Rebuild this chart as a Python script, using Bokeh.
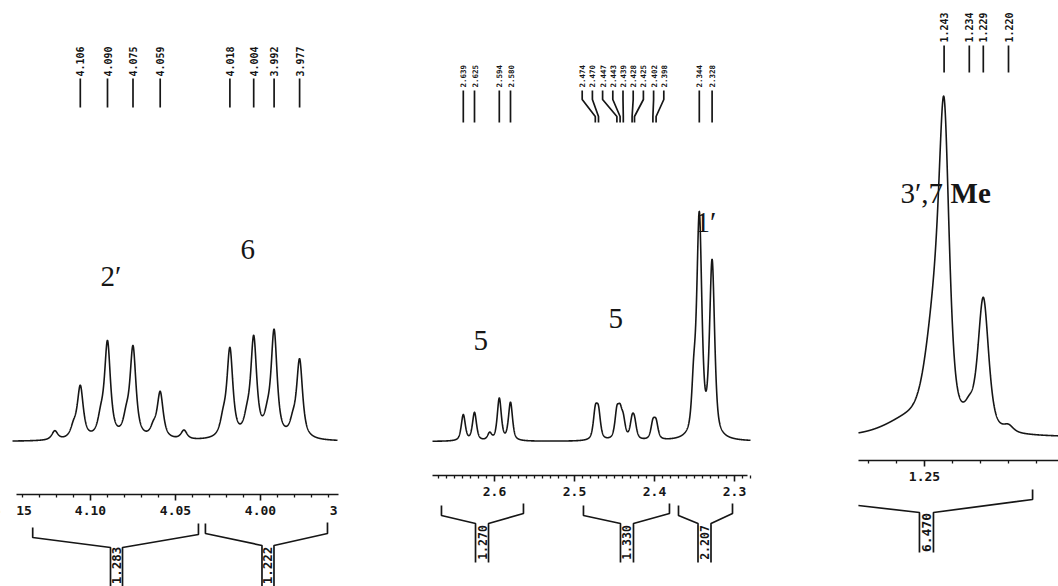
import numpy as np
from bokeh.plotting import figure
from bokeh.models import Range1d, LinearAxis, FixedTicker, NumeralTickFormatter
from bokeh.core.properties import value
from bokeh.embed import file_html
from bokeh.resources import INLINE

# ---------------- 1H NMR data (shifts in ppm, intensities in arbitrary units) ----------------
# Region A: H-2' and H-6 multiplets
a_shift = [4.121, 4.110, 4.106, 4.094, 4.090, 4.079, 4.075, 4.063, 4.059, 4.045,
           4.022, 4.018, 4.008, 4.004, 3.996, 3.992, 3.981, 3.977]
a_height = [9, 10, 52, 16, 95, 16, 90, 9, 46, 9,
            15, 88, 14, 98, 14, 105, 12, 78]
a_width = 0.0042
a_picked = [4.106, 4.090, 4.075, 4.059, 4.018, 4.004, 3.992, 3.977]
a_integral = [1.283, 1.222]
a_int_from = [4.134, 4.0324]
a_int_to = [4.0365, 3.9606]
a_int_centre = [4.0847, 3.9956]
a_ticks = [4.15, 4.10, 4.05, 4.00, 3.95]

# Region B: H-5 and H-1' multiplets
b_shift = [2.639, 2.625, 2.606, 2.594, 2.580,
           2.474, 2.470, 2.447, 2.443, 2.439, 2.428, 2.425, 2.402, 2.398,
           2.351, 2.344, 2.328]
b_height = [26, 28, 7, 42, 38,
            27, 26, 26, 22, 17, 17, 15, 16, 16,
            45, 220, 175]
b_width = [0.006, 0.006, 0.006, 0.006, 0.006,
           0.006, 0.006, 0.006, 0.006, 0.006, 0.006, 0.006, 0.006, 0.006,
           0.006, 0.0075, 0.0075]
b_picked = [2.639, 2.625, 2.594, 2.580,
            2.474, 2.470, 2.447, 2.443, 2.439, 2.428, 2.425, 2.402, 2.398,
            2.344, 2.328]
b_integral = [1.270, 1.330, 2.207]
b_int_from = [2.6663, 2.4888, 2.370]
b_int_to = [2.5638, 2.3813, 2.3025]
b_int_centre = [2.6156, 2.4344, 2.3375]
b_ticks = [2.6, 2.5, 2.4, 2.3]

# Region C: 3'-Me and 7-Me doublets
c_shift = [1.256, 1.2465, 1.243, 1.234, 1.229, 1.220]
c_height = [14, 100, 279, 14, 132, 6]
c_width = [0.02, 0.0075, 0.0043, 0.004, 0.0045, 0.004]
c_picked = [1.243, 1.234, 1.229, 1.220]
c_integral = [6.470]
c_int_from = [1.2736]
c_int_to = [1.2114]
c_int_centre = [1.2493]
c_ticks = [1.25, 1.20]

W, H = 1058, 586
INK = "#161616"
MONO = value("DejaVu Sans Mono")
SERIF = value("Liberation Serif")


def lineshape(x, centres, heights, widths, eta):
    """Pseudo-Voigt sum of the listed resonances."""
    if np.isscalar(widths):
        widths = [widths] * len(centres)
    y = np.zeros_like(x)
    for c, h, w in zip(centres, heights, widths):
        g = w / 2.0
        lor = g * g / ((x - c) ** 2 + g * g)
        gau = np.exp(-4.0 * np.log(2.0) * ((x - c) / w) ** 2)
        y += h * (eta * lor + (1.0 - eta) * gau)
    return y


# page-pixel frame: x to the right, y downward from the top
p = figure(width=W, height=H, x_range=Range1d(0, W), y_range=Range1d(H, 0),
           x_axis_type=None, y_axis_type=None, toolbar_location=None,
           output_backend="svg", min_border=0, outline_line_color=None,
           background_fill_color="white", border_fill_color="white")

# each region: pixel position of a reference shift, px per ppm, baseline row, axis row
regions = {
    "a": dict(ref_px=90, ref_ppm=4.10, scale=1700.0, base=441, axis_y=494),
    "b": dict(ref_px=494, ref_ppm=2.60, scale=800.0, base=441, axis_y=475),
    "c": dict(ref_px=924, ref_ppm=1.25, scale=2800.0, base=437, axis_y=460),
}

xr, yr = {}, {}
for k, r in regions.items():
    xr[k] = Range1d(r["ref_ppm"] + r["ref_px"] / r["scale"],
                    r["ref_ppm"] - (W - r["ref_px"]) / r["scale"])
    yr[k] = Range1d(-(H - r["base"]), r["base"])
p.extra_x_ranges = xr
p.extra_y_ranges = yr


def to_ppm(k, px):
    r = regions[k]
    return r["ref_ppm"] - (px - r["ref_px"]) / r["scale"]


# ---------------- spectra ----------------
spectra = [
    ("a", a_shift, a_height, a_width, 0.8, (12, 337)),
    ("b", b_shift, b_height, b_width, 0.6, (432, 750)),
    ("c", c_shift, c_height, c_width, 0.55, (858, 1058)),
]
for k, s, h, w, eta, (px0, px1) in spectra:
    x = np.linspace(to_ppm(k, px0), to_ppm(k, px1), 2500)
    p.line(x, lineshape(x, s, h, w, eta), x_range_name=k, y_range_name=k,
           line_color=INK, line_width=1.6)

# ---------------- ppm axes ----------------
axis_spec = [
    ("a", a_ticks, 0.01, "0.00", (3.95, 4.15)),
    ("b", b_ticks, 0.01, "0.0", (2.284, 2.6775)),
    ("c", c_ticks, 0.01, "0.00", (1.19, 1.2736)),
]
for k, ticks, step, fmt, bounds in axis_spec:
    lo, hi = bounds
    minor = [round(v, 3) for v in np.arange(round(lo, 2), hi + 1e-9, step)
             if all(abs(v - t) > 1e-6 for t in ticks)]
    ax = LinearAxis(x_range_name=k, fixed_location=regions[k]["axis_y"],
                    ticker=FixedTicker(ticks=ticks, minor_ticks=minor),
                    formatter=NumeralTickFormatter(format=fmt), bounds=bounds,
                    axis_line_color=INK, axis_line_width=1.6,
                    major_tick_line_color=INK, major_tick_line_width=1.6,
                    minor_tick_line_color=INK, minor_tick_line_width=1.3,
                    major_tick_in=0, major_tick_out=6, minor_tick_in=0, minor_tick_out=3,
                    major_label_standoff=5, major_label_text_font="DejaVu Sans Mono",
                    major_label_text_font_style="bold", major_label_text_font_size="13px",
                    major_label_text_color=INK)
    p.add_layout(ax, "below")

# trim the first region's axis where its neighbouring panels begin
p.quad(left=[0, 338], right=[16, 425], top=[482, 482], bottom=[521, 521],
       fill_color="white", line_color=None, level="overlay")

# ---------------- peak-pick labels ----------------
pick_spec = [
    # region, shifts, text bottom row, stick top, stick bottom, font size
    ("a", a_picked, 76, 78, 107, "10px"),
    ("b", b_picked, 87, 90, 122, "7.5px"),
    ("c", c_picked, 42, 45, 72, "10px"),
]
for k, picked, tb, st, sb, fs in pick_spec:
    lab_x = list(picked)
    xs, ys = [], []
    if k == "b":
        # the crowded H-5 cluster is fanned out to equal spacing
        crowd = [v for v in picked if 2.39 < v < 2.48]
        centre = to_ppm(k, 622.5)
        gap = 10.2 / regions[k]["scale"]
        n = len(crowd)
        spread = {v: centre + ((n - 1) / 2 - i) * gap for i, v in enumerate(crowd)}
        lab_x = [spread.get(v, v) for v in picked]
    for v, lx in zip(picked, lab_x):
        if lx == v:
            xs.append([v, v])
            ys.append([st, sb])
        else:
            xs.append([lx, lx, v, v])
            ys.append([st, st + 9, sb - 6, sb])
    p.multi_line(xs, ys, x_range_name=k, line_color=INK, line_width=1.7)
    p.text(x=lab_x, y=[tb] * len(picked), text=[f"{v:.3f}" for v in picked],
           x_range_name=k, angle=np.pi / 2, text_align="left", text_baseline="middle",
           text_font=MONO, text_font_style="bold", text_font_size=fs, text_color=INK)

# ---------------- integrals ----------------
int_spec = [
    # region, values, from, to, centre, stem half-width px, left top, right top,
    # left drop, right drop, stem top, stem bottom, value row, font size
    ("a", a_integral, a_int_from, a_int_to, a_int_centre, 6, [527, 523], [523, 522],
     10, 11, [547, 545], 600, 565, "12.5px"),
    ("b", b_integral, b_int_from, b_int_to, b_int_centre, 6.5, [505] * 3, [503] * 3,
     10, 10, [523] * 3, 562, 542, "11.5px"),
    ("c", c_integral, c_int_from, c_int_to, c_int_centre, 7, [505], [489],
     0, 10, [512], 552, 532, "13px"),
]
for (k, vals, frm, to, ctr, half_px, ltop, rtop, ldrop, rdrop,
     stop, sbot, vrow, fs) in int_spec:
    half = half_px / regions[k]["scale"]
    xs, ys = [], []
    for i in range(len(vals)):
        xs.append([frm[i], frm[i], ctr[i] + half, ctr[i] + half])
        ys.append([ltop[i], ltop[i] + ldrop, stop[i], sbot])
        xs.append([to[i], to[i], ctr[i] - half, ctr[i] - half])
        ys.append([rtop[i], rtop[i] + rdrop, stop[i], sbot])
    p.multi_line(xs, ys, x_range_name=k, line_color=INK, line_width=1.7)
    p.text(x=ctr, y=[vrow] * len(vals), text=[f"{v:.3f}" for v in vals],
           x_range_name=k, angle=np.pi / 2, text_align="center", text_baseline="middle",
           text_font=MONO, text_font_style="bold", text_font_size=fs, text_color=INK)

# ---------------- assignments ----------------
assign = [
    ("a", 4.0941, 166, "2\u2032", "normal"),
    ("a", 4.0118, 192, "6", "normal"),
    ("b", 2.6263, 101, "5", "normal"),
    ("b", 2.4575, 123, "5", "normal"),
    ("b", 2.3488, 220, "1\u2032", "normal"),
    ("c", 1.2586, 245, "3\u2032,7", "normal"),
    ("c", 1.2407, 245, "Me", "bold"),
]
for k, xv, yv, txt, style in assign:
    p.text(x=[xv], y=[yv], text=[txt], x_range_name=k, y_range_name=k,
           text_align="left", text_baseline="middle", text_font=SERIF,
           text_font_style=style, text_font_size="29px", text_color=INK)

open("out.html", "w").write(file_html(p, INLINE))
